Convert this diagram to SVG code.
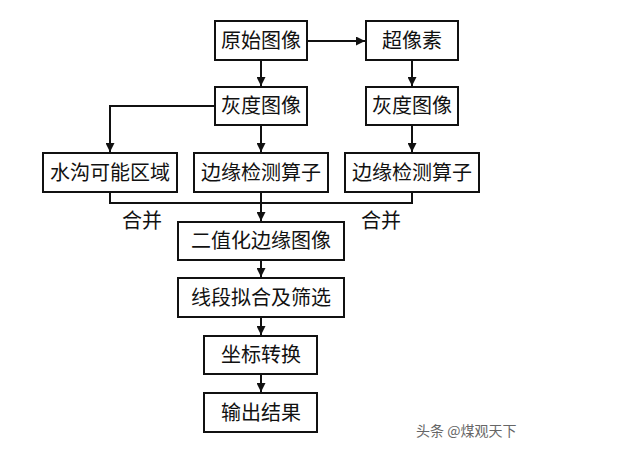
<svg xmlns="http://www.w3.org/2000/svg" width="640" height="451" viewBox="0 0 640 451">
<defs>
<style>
.b{fill:#fff;stroke:#111;stroke-width:2}
.t{font-family:"Liberation Serif","Noto Sans CJK SC",serif;font-size:20px;fill:#111;text-anchor:middle;dominant-baseline:central}
.c{fill:none;stroke:#111;stroke-width:2}
.w{font-family:"Noto Sans CJK SC",sans-serif;font-size:14px;fill:#666;text-anchor:start;dominant-baseline:central}
</style>
<marker id="a" viewBox="0 0 10 10" refX="10" refY="5" markerWidth="9" markerHeight="9" markerUnits="userSpaceOnUse" orient="auto">
<path d="M0,0 L10,5 L0,10 Z" fill="#111"/>
</marker>
</defs>
<rect width="640" height="451" fill="#fff"/>
<g id="connectors">
<path class="c" d="M307,41 H365" marker-end="url(#a)"/>
<path class="c" d="M261,60 V86" marker-end="url(#a)"/>
<path class="c" d="M412,60 V86" marker-end="url(#a)"/>
<path class="c" d="M215,106 H110 V152" marker-end="url(#a)"/>
<path class="c" d="M261,125 V152" marker-end="url(#a)"/>
<path class="c" d="M412,125 V152" marker-end="url(#a)"/>
<path class="c" d="M110,192 V203 H412 V192"/>
<path class="c" d="M261,192 V221" marker-end="url(#a)"/>
<path class="c" d="M261,260 V277" marker-end="url(#a)"/>
<path class="c" d="M261,317 V335" marker-end="url(#a)"/>
<path class="c" d="M261,374 V392" marker-end="url(#a)"/>
</g>
<g id="n1"><rect class="b" x="215" y="21" width="92" height="39"/><text class="t" x="261" y="41">原始图像</text></g>
<g id="n2"><rect class="b" x="366" y="21" width="92" height="39"/><text class="t" x="412" y="41">超像素</text></g>
<g id="n3"><rect class="b" x="215" y="87" width="92" height="38"/><text class="t" x="261" y="106">灰度图像</text></g>
<g id="n4"><rect class="b" x="366" y="87" width="92" height="38"/><text class="t" x="412" y="106">灰度图像</text></g>
<g id="n5"><rect class="b" x="43" y="153" width="134" height="39"/><text class="t" x="110" y="173">水沟可能区域</text></g>
<g id="n6"><rect class="b" x="194" y="153" width="134" height="39"/><text class="t" x="261" y="173">边缘检测算子</text></g>
<g id="n7"><rect class="b" x="345" y="153" width="134" height="39"/><text class="t" x="412" y="173">边缘检测算子</text></g>
<g id="l1"><text class="t" x="142" y="221">合并</text></g>
<g id="l2"><text class="t" x="381" y="221">合并</text></g>
<g id="n8"><rect class="b" x="178" y="222" width="166" height="38"/><text class="t" x="261" y="241">二值化边缘图像</text></g>
<g id="n9"><rect class="b" x="178" y="278" width="166" height="39"/><text class="t" x="261" y="298">线段拟合及筛选</text></g>
<g id="n10"><rect class="b" x="204" y="336" width="113" height="38"/><text class="t" x="261" y="355">坐标转换</text></g>
<g id="n11"><rect class="b" x="204" y="393" width="113" height="39"/><text class="t" x="261" y="413">输出结果</text></g>
<text class="w" x="416" y="430">头条 @煤观天下</text>
</svg>
